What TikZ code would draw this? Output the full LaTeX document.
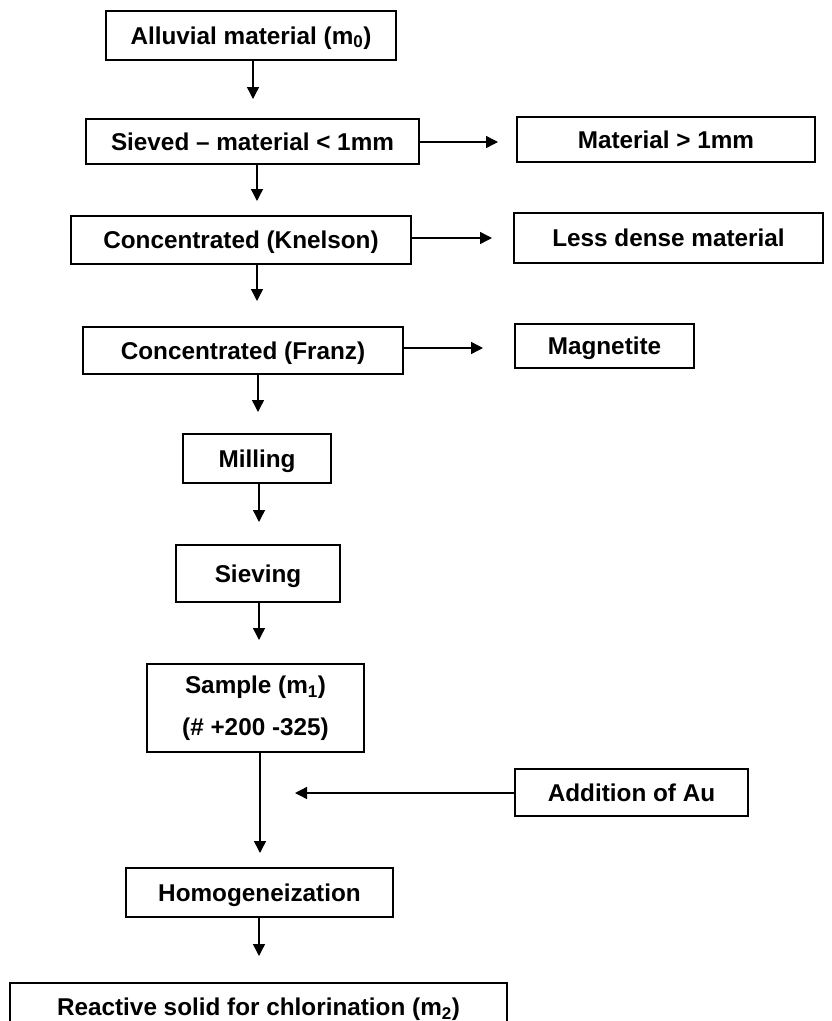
\documentclass[tikz,border=0pt]{standalone}
\usepackage{fontspec}
\setmainfont{Liberation Sans}
\usetikzlibrary{arrows.meta}
\begin{document}
\begin{tikzpicture}[x=1pt,y=-1pt,
  basebox/.style={draw=black,line width=1.8pt,rectangle,inner sep=0pt,align=center,
    font=\fontsize{24.3}{42}\selectfont\bfseries},
  box/.style={basebox,text height=17.5pt,text depth=0pt},
  arr/.style={line width=1.4pt,-{Triangle[length=12pt,width=12pt]}}]
\useasboundingbox (0,0) rectangle (832,1021);
\clip (0,0) rectangle (832,1021);
\node[box,minimum width=290pt,minimum height=49pt] (alluv) at (251,35.5) {Alluvial material (m\textsubscript{0})};
\node[box,minimum width=333pt,minimum height=45pt] (sieved) at (252.5,141.5) {Sieved -- material < 1mm};
\node[box,minimum width=298pt,minimum height=45pt] (mat) at (666,139.5) {Material > 1mm};
\node[box,minimum width=340pt,minimum height=48pt] (knel) at (241,240) {Concentrated (Knelson)};
\node[box,minimum width=309pt,minimum height=50pt] (less) at (668.5,238) {Less dense material};
\node[box,minimum width=320pt,minimum height=47pt] (franz) at (243,350.5) {Concentrated (Franz)};
\node[box,minimum width=179pt,minimum height=44pt] (magn) at (604.5,346) {Magnetite};
\node[box,minimum width=148pt,minimum height=49pt] (mill) at (257,458.5) {Milling};
\node[box,minimum width=164pt,minimum height=57pt] (siev) at (258,573.5) {Sieving};
\node[basebox,minimum width=217pt,minimum height=88pt] (sample) at (255.5,708) {Sample (m\textsubscript{1})\\(\# +200 -325)};
\node[box,minimum width=233pt,minimum height=47pt] (addau) at (631.5,792.5) {Addition of Au};
\node[box,minimum width=267pt,minimum height=49pt] (homog) at (259.5,892.5) {Homogeneization};
\node[box,minimum width=497pt,minimum height=48pt] (react) at (258.5,1007) {Reactive solid for chlorination (m\textsubscript{2})};
\coordinate (t1) at (253,99);
\coordinate (t2) at (257,201);
\coordinate (t3) at (257,301);
\coordinate (t4) at (258,412);
\coordinate (t5) at (259,522);
\coordinate (t6) at (259,640);
\coordinate (t7) at (260,853);
\coordinate (t8) at (259,956);
\coordinate (r1) at (498,142);
\coordinate (r2) at (492,238);
\coordinate (r3) at (483,348);
\coordinate (r4) at (295,793);
\draw[arr] (alluv.south -| t1) -- (t1);
\draw[arr] (sieved.south -| t2) -- (t2);
\draw[arr] (knel.south -| t3) -- (t3);
\draw[arr] (franz.south -| t4) -- (t4);
\draw[arr] (mill.south -| t5) -- (t5);
\draw[arr] (siev.south -| t6) -- (t6);
\draw[arr] (sample.south -| t7) -- (t7);
\draw[arr] (homog.south -| t8) -- (t8);
\draw[arr] (sieved.east |- r1) -- (r1);
\draw[arr] (knel.east |- r2) -- (r2);
\draw[arr] (franz.east |- r3) -- (r3);
\draw[arr] (addau.west |- r4) -- (r4);
\end{tikzpicture}
\end{document}
